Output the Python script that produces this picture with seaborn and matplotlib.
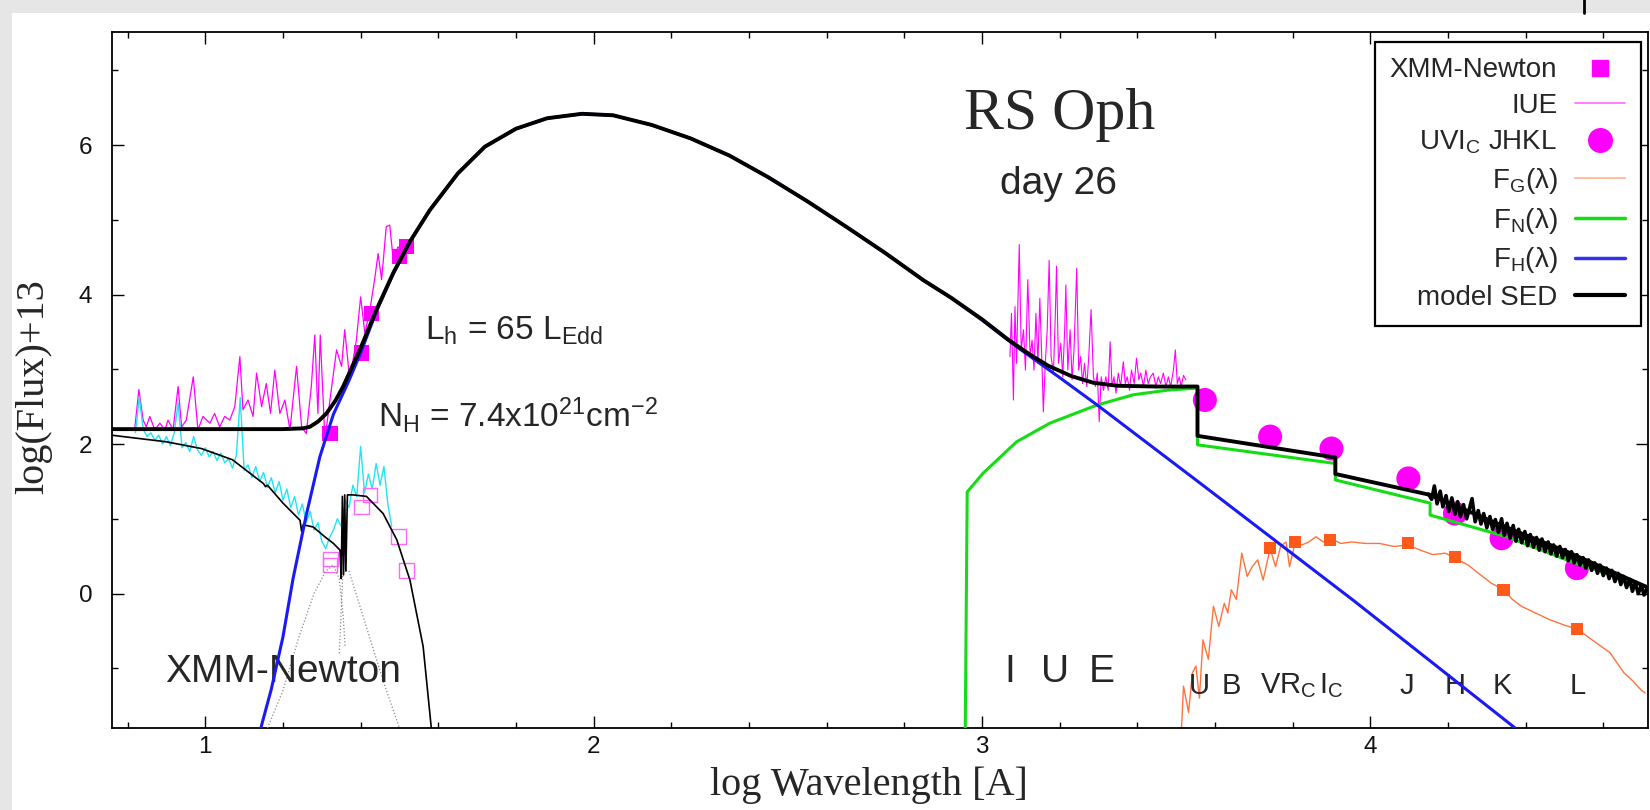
import matplotlib
matplotlib.use("Agg")
import matplotlib.pyplot as plt
from matplotlib.lines import Line2D
from matplotlib.patches import Rectangle
from matplotlib.ticker import MultipleLocator
import seaborn as sns

# --- data (x = log wavelength [A], y = log(Flux)+13) ---

# model SED (thick black)
sed_x = [0.757, 1.20, 1.25, 1.269, 1.29, 1.312, 1.335, 1.355, 1.375, 1.398, 1.441, 1.484,
         1.527, 1.578, 1.65, 1.72, 1.80, 1.88, 1.97, 2.05, 2.15, 2.25, 2.35, 2.45, 2.55,
         2.65, 2.75, 2.85, 2.92, 3.00, 3.067, 3.12, 3.17, 3.23, 3.287, 3.35, 3.45, 3.555,
         3.555, 3.91, 3.91, 4.154, 4.334, 4.506, 4.715]
sed_y = [2.20, 2.20, 2.21, 2.23, 2.30, 2.41, 2.58, 2.77, 3.00, 3.26, 3.80, 4.29,
         4.71, 5.13, 5.62, 5.98, 6.22, 6.36, 6.42, 6.40, 6.27, 6.09, 5.86, 5.57, 5.25,
         4.91, 4.56, 4.19, 3.96, 3.67, 3.40, 3.21, 3.05, 2.91, 2.82, 2.78, 2.77, 2.77,
         2.11, 1.82, 1.60, 1.32, 0.92, 0.56, 0.08]

# F_H (blue)
fh_x = [1.143, 1.17, 1.20, 1.226, 1.26, 1.295, 1.33, 1.37, 1.40, 1.441, 1.484, 1.527, 1.578,
        1.65, 1.72, 1.80, 1.88, 1.97, 2.05, 2.15, 2.25, 2.35, 2.45, 2.55, 2.65, 2.75, 2.85,
        2.92, 3.00, 3.09, 3.20, 3.30, 3.561, 3.956, 4.373]
fh_y = [-1.80, -1.28, -0.58, 0.20, 1.05, 1.83, 2.40, 2.85, 3.22, 3.78, 4.28, 4.71, 5.13,
        5.62, 5.98, 6.22, 6.36, 6.42, 6.40, 6.27, 6.09, 5.86, 5.57, 5.25, 4.91, 4.56, 4.19,
        3.96, 3.66, 3.30, 2.89, 2.51, 1.48, -0.09, -1.80]

# F_N (green)
fn_x = [2.957, 2.962, 3.003, 3.089, 3.175, 3.295, 3.39, 3.476, 3.555, 3.555, 3.91, 3.91,
        4.154, 4.154, 4.351, 4.506, 4.712]
fn_y = [-1.80, 1.36, 1.61, 2.03, 2.28, 2.52, 2.66, 2.72, 2.75, 1.99, 1.74, 1.52,
        1.21, 1.05, 0.76, 0.45, 0.09]

# IR spectrum (black, noisy)
ir_x = [4.150, 4.158, 4.165, 4.172, 4.180, 4.187, 4.195, 4.202, 4.210, 4.218, 4.225, 4.232,
        4.240, 4.248, 4.255, 4.262, 4.270, 4.278, 4.285, 4.292, 4.300, 4.308, 4.315, 4.322,
        4.330, 4.338, 4.345, 4.352, 4.360, 4.368, 4.375, 4.382, 4.390, 4.398, 4.405, 4.412,
        4.420, 4.428, 4.435, 4.442, 4.450, 4.458, 4.465, 4.472, 4.480, 4.488, 4.495, 4.502,
        4.510, 4.518, 4.525, 4.532, 4.540, 4.548, 4.555, 4.562, 4.570, 4.578, 4.585, 4.592,
        4.600, 4.608, 4.615, 4.622, 4.630, 4.638, 4.645, 4.652, 4.660, 4.668, 4.675, 4.682,
        4.690, 4.698, 4.705, 4.712]
ir_y = [1.33, 1.26, 1.44, 1.20, 1.37, 1.16, 1.31, 1.10, 1.28, 1.06, 1.23, 1.03,
        1.19, 1.00, 1.13, 1.27, 0.96, 1.11, 0.93, 1.07, 0.88, 1.03, 0.86, 0.99,
        0.82, 1.00, 0.78, 0.94, 0.74, 0.91, 0.70, 0.86, 0.68, 0.83, 0.64, 0.79,
        0.62, 0.75, 0.58, 0.73, 0.56, 0.69, 0.53, 0.65, 0.50, 0.63, 0.48, 0.59,
        0.44, 0.56, 0.41, 0.52, 0.38, 0.48, 0.34, 0.45, 0.31, 0.41, 0.27, 0.38,
        0.24, 0.34, 0.20, 0.31, 0.16, 0.27, 0.12, 0.23, 0.08, 0.19, 0.03, 0.15,
        0.00, 0.11, -0.02, 0.06]

# XMM-Newton spectrum (magenta) and its second channel (cyan)
xmm_x = [0.818, 0.829, 0.840, 0.848, 0.857, 0.870, 0.883, 0.896, 0.904, 0.917, 0.930, 0.939,
         0.951, 0.969, 0.981, 0.994, 1.012, 1.024, 1.037, 1.050, 1.063, 1.076, 1.089, 1.097,
         1.110, 1.123, 1.132, 1.145, 1.157, 1.168, 1.179, 1.192, 1.205, 1.218, 1.235, 1.248,
         1.260, 1.273, 1.282, 1.290, 1.296, 1.308, 1.321, 1.338, 1.351, 1.359, 1.372, 1.389,
         1.400, 1.411, 1.424, 1.436, 1.445, 1.454, 1.466, 1.475, 1.484, 1.496, 1.509, 1.522]
xmm_y = [2.19, 2.73, 2.32, 2.23, 2.37, 2.19, 2.28, 2.19, 2.32, 2.19, 2.77, 2.23,
         2.32, 2.90, 2.19, 2.37, 2.28, 2.41, 2.23, 2.37, 2.32, 2.50, 3.17, 2.46,
         2.59, 2.37, 2.95, 2.50, 2.81, 2.41, 2.99, 2.41, 2.59, 2.19, 3.04, 2.23,
         2.14, 2.77, 3.46, 2.41, 3.46, 2.06, 2.59, 3.26, 3.04, 3.53, 2.86, 3.39,
         3.97, 3.48, 3.80, 4.20, 4.55, 4.20, 4.91, 4.93, 4.46, 4.64, 4.55, 4.69]

cyan_x = [0.82, 0.83, 0.84, 0.85, 0.86, 0.87, 0.88, 0.89, 0.90, 0.91, 0.92, 0.93, 0.94, 0.95,
          0.96, 0.97, 0.98, 0.99, 1.00, 1.01, 1.02, 1.03, 1.04, 1.05, 1.06, 1.07, 1.08, 1.09,
          1.10, 1.11, 1.12, 1.13, 1.14, 1.15, 1.16, 1.17, 1.18, 1.19, 1.20, 1.21, 1.22, 1.23,
          1.24, 1.25, 1.26, 1.27, 1.28, 1.29, 1.30, 1.31, 1.32, 1.33, 1.34, 1.35, 1.36, 1.37,
          1.38, 1.39, 1.40, 1.41, 1.42, 1.43, 1.44, 1.45, 1.46, 1.47, 1.48]
cyan_y = [2.15, 2.63, 2.20, 2.10, 2.15, 2.05, 2.12, 2.00, 2.10, 1.98, 2.15, 2.55, 1.95, 2.02,
          1.90, 2.10, 1.92, 1.85, 1.95, 1.83, 1.90, 1.78, 1.88, 1.75, 1.80, 1.68, 1.85, 2.62,
          1.65, 1.72, 1.55, 1.70, 1.50, 1.62, 1.42, 1.55, 1.35, 1.50, 1.25, 1.40, 1.15, 1.30,
          1.05, 1.20, 0.95, 1.10, 0.85, 0.95, 0.70, 0.60, 0.75, 0.85, 1.00, 0.90, 1.25, 1.15,
          1.45, 1.30, 1.97, 1.35, 1.60, 1.40, 1.74, 1.45, 1.70, 1.20, 0.90]

# absorbed XMM model (thin black) and its components (dotted)
xmod_x = [0.757, 0.90, 0.99, 1.07, 1.15, 1.155, 1.16, 1.20, 1.244, 1.248, 1.252, 1.278, 1.31,
          1.33, 1.347, 1.350, 1.353, 1.356, 1.359, 1.362, 1.366, 1.38, 1.415, 1.458, 1.47,
          1.475, 1.493, 1.527, 1.561, 1.582]
xmod_y = [2.12, 2.03, 1.94, 1.79, 1.47, 1.43, 1.45, 1.21, 0.98, 0.83, 0.92, 0.89, 0.75,
          0.67, 0.58, 0.20, 1.30, 0.25, 1.32, 0.30, 1.32, 1.32, 1.30, 1.07, 0.95,
          0.90, 0.72, 0.18, -0.71, -1.80]
comp1_x = [1.16, 1.20, 1.24, 1.28, 1.31, 1.33, 1.345, 1.355, 1.36]
comp1_y = [-1.80, -1.30, -0.60, 0.00, 0.30, 0.38, 0.20, -0.30, -0.70]
comp2_x = [1.345, 1.355, 1.37, 1.40, 1.43, 1.46, 1.50]
comp2_y = [-0.80, 0.35, 0.30, -0.20, -0.70, -1.20, -1.80]

# XMM points: filled and open squares
xmm_pts_x = [1.321, 1.402, 1.428, 1.501, 1.518]
xmm_pts_y = [2.14, 3.22, 3.75, 4.51, 4.64]
xmm_open_x = [1.321, 1.323, 1.402, 1.424, 1.497, 1.518]
xmm_open_y = [0.38, 0.46, 1.16, 1.32, 0.76, 0.31]

# IUE spectrum
iue_x = [3.072, 3.076, 3.081, 3.085, 3.089, 3.096, 3.101, 3.107, 3.112, 3.118, 3.124, 3.129,
         3.134, 3.139, 3.144, 3.149, 3.155, 3.158, 3.163, 3.168, 3.173, 3.178, 3.184, 3.189,
         3.192, 3.197, 3.203, 3.208, 3.213, 3.216, 3.221, 3.227, 3.232, 3.237, 3.244, 3.249,
         3.254, 3.259, 3.264, 3.270, 3.275, 3.281, 3.287, 3.292, 3.297, 3.302, 3.307, 3.313,
         3.319, 3.325, 3.330, 3.335, 3.340, 3.345, 3.351, 3.357, 3.364, 3.369, 3.374, 3.380,
         3.385, 3.392, 3.398, 3.404, 3.409, 3.416, 3.422, 3.428, 3.434, 3.441, 3.448, 3.454,
         3.460, 3.467, 3.474, 3.480, 3.486, 3.493, 3.498, 3.503, 3.508, 3.513, 3.519, 3.525]
iue_y = [3.17, 3.75, 2.59, 3.84, 3.08, 4.67, 3.26, 3.53, 2.99, 4.20, 3.17, 3.39,
         2.99, 3.75, 3.08, 3.95, 2.99, 2.43, 3.08, 3.53, 4.46, 3.17, 2.95, 3.75,
         4.38, 3.08, 3.35, 2.90, 3.53, 4.13, 2.99, 3.53, 2.86, 3.26, 4.35, 2.99,
         3.17, 2.81, 3.08, 2.77, 3.17, 3.80, 2.90, 2.77, 2.95, 2.30, 2.90, 2.72,
         2.90, 2.72, 3.37, 2.77, 2.90, 2.68, 2.95, 2.77, 3.10, 2.81, 2.90, 2.72,
         2.99, 2.81, 3.15, 2.86, 2.95, 2.77, 2.99, 2.81, 2.90, 2.95, 2.77, 2.90,
         2.81, 2.95, 2.77, 2.90, 2.77, 2.99, 3.26, 2.81, 2.90, 2.77, 2.92, 2.86]

# UBVRcIc JHKL photometry (magenta circles)
phot_x = [3.574, 3.742, 3.900, 4.098, 4.218, 4.338, 4.532]
phot_y = [2.59, 2.10, 1.94, 1.54, 1.07, 0.74, 0.34]

# F_G giant spectrum (orange) and its photometric points
fg_x = [3.514, 3.519, 3.532, 3.542, 3.551, 3.560, 3.569, 3.583, 3.596, 3.610, 3.624, 3.633,
        3.642, 3.655, 3.669, 3.683, 3.696, 3.710, 3.724, 3.742, 3.756, 3.769, 3.783, 3.792,
        3.806, 3.824, 3.842, 3.860, 3.879, 3.897, 3.924, 3.952, 3.988, 4.024, 4.061, 4.097,
        4.129, 4.161, 4.193, 4.220, 4.252, 4.279, 4.311, 4.343, 4.366, 4.389, 4.425, 4.462,
        4.498, 4.534, 4.571, 4.617, 4.653, 4.676, 4.699, 4.708]
fg_y = [-1.79, -1.24, -1.59, -1.06, -0.97, -1.40, -0.62, -0.88, -0.17, -0.44, -0.13, -0.26,
        0.05, -0.08, 0.54, 0.23, 0.36, 0.45, 0.18, 0.60, 0.36, 0.63, 0.69, 0.36,
        0.67, 0.65, 0.69, 0.76, 0.69, 0.74, 0.67, 0.69, 0.67, 0.67, 0.63, 0.65,
        0.58, 0.52, 0.54, 0.47, 0.38, 0.27, 0.14, 0.05, -0.08, -0.17, -0.26, -0.35,
        -0.42, -0.48, -0.62, -0.79, -1.06, -1.17, -1.30, -1.33]
fg_pts_x = [3.742, 3.806, 3.896, 4.098, 4.218, 4.343, 4.533]
fg_pts_y = [0.605, 0.69, 0.72, 0.67, 0.49, 0.05, -0.47]

# band labels under the optical / IR data
band_x = [3.560, 3.642, 4.095, 4.218, 4.341, 4.535]
band_lab = ["U", "B", "J", "H", "K", "L"]

legend_labels = ["XMM-Newton", "IUE", r"UVI$_\mathrm{C}$ JHKL", r"F$_\mathrm{G}$(λ)",
                 r"F$_\mathrm{N}$(λ)", r"F$_\mathrm{H}$(λ)", "model SED"]

MAGENTA = "#ff00ff"
CYAN = "#22e4f2"
ORANGE = "#ff5a1a"
GREEN = "#14dd14"
BLUE = "#1a1af5"

sns.set_theme(style="ticks")
plt.rcParams["font.family"] = ["Liberation Sans", "DejaVu Sans"]
plt.rcParams["mathtext.fontset"] = "custom"
plt.rcParams["mathtext.rm"] = "Liberation Sans"
plt.rcParams["mathtext.it"] = "Liberation Sans:italic"
plt.rcParams["mathtext.bf"] = "Liberation Sans:bold"

fig = plt.figure(figsize=(16.5, 8.1), dpi=100)
fig.patch.set_facecolor("#e6e6e6")
fig.add_artist(Rectangle((12 / 1650, 0), 1, 1 - 13 / 810, transform=fig.transFigure,
                         facecolor="white", edgecolor="none", zorder=-10))
fig.add_artist(Line2D([1584 / 1650] * 2, [1 - 13 / 810, 1], transform=fig.transFigure,
                      color="black", lw=2))

ax = fig.add_axes([0.0677, 0.1012, 0.9313, 0.8598])

def line(x, y, **kw):
    sns.lineplot(x=x, y=y, sort=False, estimator=None, ax=ax, legend=False, **kw)

# XMM part
line(xmm_x, xmm_y, color=MAGENTA, linewidth=0.9, zorder=2)
line(cyan_x, cyan_y, color=CYAN, linewidth=1.0, zorder=2)
ax.scatter(xmm_open_x, xmm_open_y, marker="s", s=110, facecolors="none",
           edgecolors="#ff66ff", linewidths=1.0, zorder=3)
line(comp1_x, comp1_y, color="#888888", linewidth=0.9, linestyle=":", zorder=3)
line(comp2_x, comp2_y, color="#888888", linewidth=0.9, linestyle=":", zorder=3)
line(xmod_x, xmod_y, color="black", linewidth=1.2, zorder=4)
sns.scatterplot(x=xmm_pts_x, y=xmm_pts_y, marker="s", s=120, color=MAGENTA,
                edgecolor="none", ax=ax, zorder=4, legend=False)

# IUE, optical and IR
line(iue_x, iue_y, color=MAGENTA, linewidth=0.8, zorder=2)
line(fg_x, fg_y, color=ORANGE, linewidth=1.0, alpha=0.85, zorder=2)
sns.scatterplot(x=fg_pts_x, y=fg_pts_y, marker="s", s=75, color=ORANGE,
                edgecolor="none", ax=ax, zorder=3, legend=False)
sns.scatterplot(x=phot_x, y=phot_y, marker="o", s=300, color=MAGENTA,
                edgecolor="none", ax=ax, zorder=3, legend=False)

# model components
line(fn_x, fn_y, color=GREEN, linewidth=2.2, zorder=5)
line(fh_x, fh_y, color=BLUE, linewidth=2.2, zorder=5)
line(sed_x, sed_y, color="black", linewidth=2.8, zorder=6)
line(ir_x, ir_y, color="black", linewidth=2.6, zorder=6)

ax.set_xlim(0.759, 4.716)
ax.set_ylim(-1.8, 7.52)
ax.xaxis.set_major_locator(MultipleLocator(1))
ax.xaxis.set_minor_locator(MultipleLocator(0.2))
ax.yaxis.set_major_locator(MultipleLocator(2))
ax.yaxis.set_minor_locator(MultipleLocator(1))
ax.tick_params(which="both", direction="in", top=True, right=True, color="black",
               width=1.0, labelsize=17.5, labelcolor="#111111")
ax.tick_params(which="major", length=8.5)
ax.tick_params(which="minor", length=4.5)
ax.tick_params(axis="x", pad=6)
ax.tick_params(axis="y", pad=14)
for sp in ax.spines.values():
    sp.set_color("black")
    sp.set_linewidth(1.3)

ax.set_xlabel("log Wavelength [A]", family="Liberation Serif", fontsize=29)
ax.set_ylabel("log(Flux)+13", family="Liberation Serif", fontsize=29)
ax.xaxis.set_label_coords(0.493, -0.0546)
ax.yaxis.set_label_coords(-0.039, 0.49)

# annotations
ax.text(3.20, 6.22, "RS Oph", family="Liberation Serif", fontsize=43, ha="center", va="baseline")
ax.text(3.198, 5.34, "day 26", fontsize=28, ha="center", va="baseline")
ax.text(1.566, 3.40, r"L$_\mathrm{h}$ = 65 L$_\mathrm{Edd}$", fontsize=24, va="baseline")
ax.text(1.444, 2.23, r"N$_\mathrm{H}$ = 7.4x10$^{21}$cm$^{-2}$", fontsize=24, va="baseline")
ax.text(0.896, -1.19, "XMM-Newton", fontsize=28, va="baseline")
for xx, t in zip([3.072, 3.188, 3.309], ["I", "U", "E"]):
    ax.text(xx, -1.19, t, fontsize=28, ha="center", va="baseline")
for xx, t in zip(band_x, band_lab):
    ax.text(xx, -1.34, t, fontsize=21, ha="center", va="baseline")
ax.text(3.715, -1.34, r"VR$_\mathrm{C}$", fontsize=21, ha="left", va="baseline")
ax.text(3.868, -1.34, r"I$_\mathrm{C}$", fontsize=21, ha="left", va="baseline")

handles = [
    Line2D([], [], ls="none", marker="s", ms=11, color=MAGENTA, mec=MAGENTA),
    Line2D([], [], color="#ff66ff", lw=1.2),
    Line2D([], [], ls="none", marker="o", ms=17, color=MAGENTA, mec=MAGENTA),
    Line2D([], [], color="#ffbfa0", lw=1.5),
    Line2D([], [], color=GREEN, lw=2.5),
    Line2D([], [], color="#3333ee", lw=2.5),
    Line2D([], [], color="black", lw=3),
]
leg = ax.legend(handles, legend_labels, loc="upper right", bbox_to_anchor=(0.995, 0.985),
                markerfirst=False, fontsize=20, frameon=True, fancybox=False,
                edgecolor="black", framealpha=1, borderpad=0.55, labelspacing=0.35,
                handlelength=1.8, handletextpad=0.65, borderaxespad=0)
leg.get_frame().set_linewidth(1.6)
leg.set_zorder(10)

fig.savefig("out.png", dpi=100, facecolor=fig.get_facecolor())
